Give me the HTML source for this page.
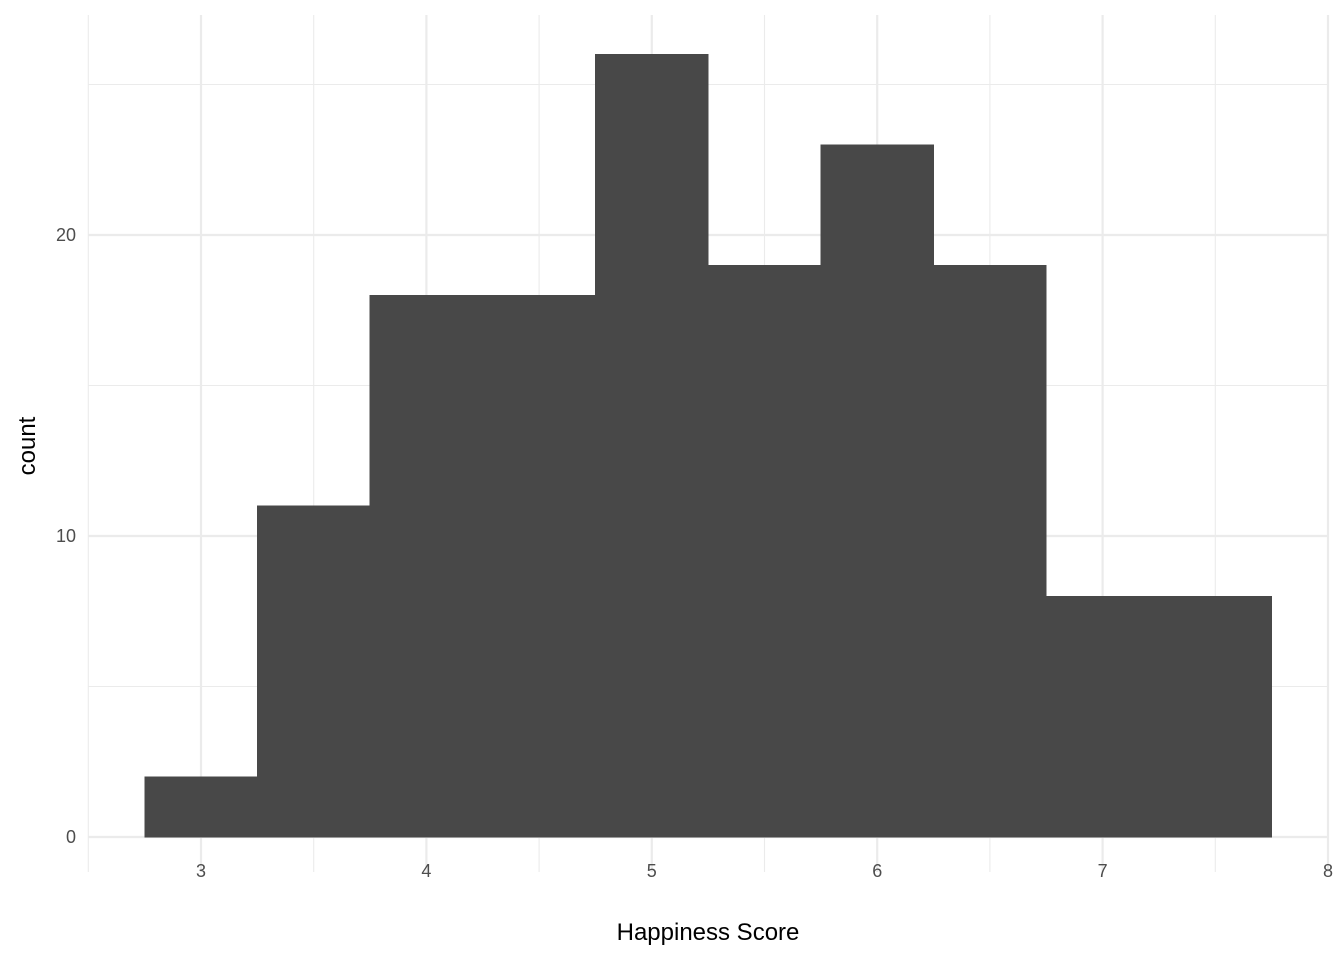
<!DOCTYPE html>
<html><head><meta charset="utf-8"><style>
html,body{margin:0;padding:0;background:#fff;}
svg{display:block;font-family:"Liberation Sans",Arial,sans-serif;}
</style></head><body>
<svg id="chart" width="1344" height="960" viewBox="0 0 1344 960" xmlns="http://www.w3.org/2000/svg">
<g id="grid"></g>
<g id="bars"></g>
<g id="axes"></g>
<text x="708" y="940" font-size="24" text-anchor="middle" fill="#000">Happiness Score</text>
<text transform="translate(35,446) rotate(-90)" font-size="24" text-anchor="middle" fill="#000">count</text>
</svg>
<script>
const binStarts=[2.75,3.25,3.75,4.25,4.75,5.25,5.75,6.25,6.75,7.25];
const binWidth=0.5;
const counts=[2,11,18,18,26,19,23,19,8,8];
const xTicks=[3,4,5,6,7,8];
const xMinor=[2.5,3.5,4.5,5.5,6.5,7.5];
const yTicks=[0,10,20];
const yMinor=[5,15,25];
const X=v=>201+(v-3)*225.4;
const Y=v=>837-v*30.1;
const NS="http://www.w3.org/2000/svg";
const L=88,R=1328,T=15,B=872;
const grid=document.getElementById('grid'),bars=document.getElementById('bars'),axes=document.getElementById('axes');
function mk(tag,attrs,parent){const e=document.createElementNS(NS,tag);for(const k in attrs)e.setAttribute(k,attrs[k]);parent.appendChild(e);return e;}
xMinor.forEach(v=>{const l=mk('line',{x1:X(v),x2:X(v),y1:T,y2:B,stroke:'#ebebeb','stroke-width':1.1},grid);

});
yMinor.forEach(v=>{const l=mk('line',{x1:L,x2:R,y1:Y(v),y2:Y(v),stroke:'#ebebeb','stroke-width':1.1},grid);

});
xTicks.forEach(v=>{const l=mk('line',{x1:X(v),x2:X(v),y1:T,y2:B,stroke:'#ebebeb','stroke-width':2.2},grid);


const t=mk('text',{x:X(v),y:877,'font-size':18,'text-anchor':'middle',fill:'#4d4d4d'},axes);t.textContent=v;

});
yTicks.forEach(v=>{const l=mk('line',{x1:L,x2:R,y1:Y(v),y2:Y(v),stroke:'#ebebeb','stroke-width':2.2},grid);


const t=mk('text',{x:76,y:Y(v)+6,'font-size':18,'text-anchor':'end',fill:'#4d4d4d'},axes);t.textContent=v;

});
counts.forEach((c,i)=>{const x0=X(binStarts[i]),x1=X(binStarts[i]+binWidth);
const r=mk('rect',{x:x0,y:Y(c),width:x1-x0,height:Y(0)-Y(c),fill:'#484848',stroke:'#484848','stroke-width':0.6,'shape-rendering':'crispEdges'},bars);

});
</script>
</body></html>
